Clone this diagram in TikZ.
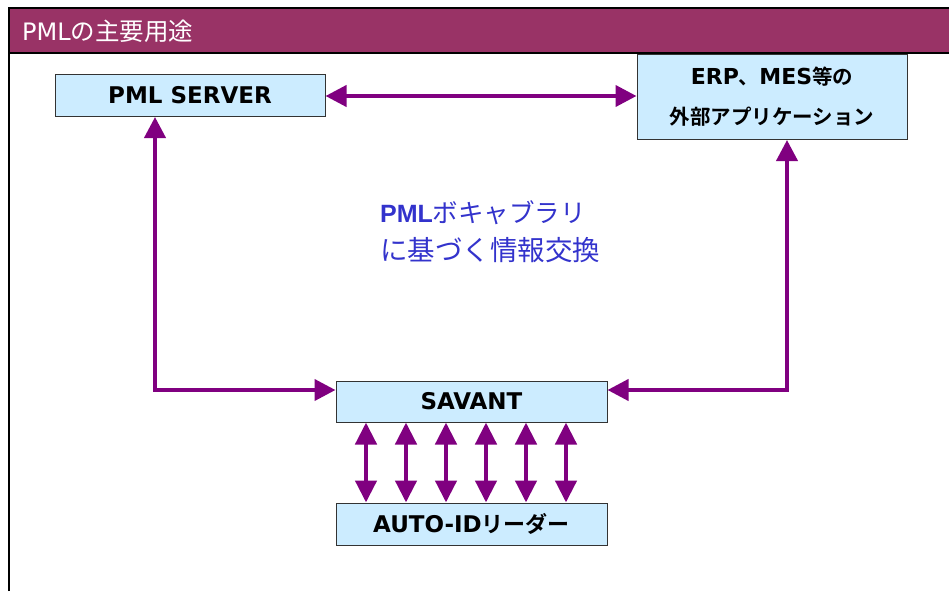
\documentclass[tikz,border=0pt]{standalone}
\usepackage{fontspec}
\setmainfont{DejaVu Sans}
\newfontfamily\jp{Noto Sans CJK JP}[BoldFont={Noto Sans CJK JP Bold}]
\newfontfamily\lib{Liberation Sans}
\usetikzlibrary{arrows.meta}
\definecolor{hdr}{HTML}{993366}
\definecolor{boxfill}{HTML}{CCECFF}
\definecolor{arrcol}{HTML}{800080}
\definecolor{txtblue}{HTML}{3333CC}
\newcommand{\jpb}[1]{{\jp\fontsize{22}{26}\selectfont #1}}
\tikzset{
  x=1pt, y=-1pt,
  boxnode/.style={draw=black!80, line width=1pt, fill=boxfill, inner sep=0pt,
    font=\bfseries\fontsize{23}{27}\selectfont, text=black},
  arr/.style={draw=arrcol, line width=4pt,
    {Triangle[length=21pt,width=21pt]}-{Triangle[length=21pt,width=21pt]}},
  arrsmall/.style={draw=arrcol, line width=4.5pt,
    {Triangle[length=22pt,width=21pt]}-{Triangle[length=22pt,width=21pt]}}
}
\begin{document}
\begin{tikzpicture}
\useasboundingbox (0,0) rectangle (949,591);
% header
\fill[hdr] (9,8) rectangle (949,53);
\draw[line width=2pt] (9,591) -- (9,8) -- (949,8);
\draw[line width=2pt] (9,53) -- (949,53);
\node[anchor=west, text=white, inner sep=0pt, font=\fontsize{24}{27}\selectfont] (title) at (22,31) {PML{\jp\fontsize{24.5}{27}\selectfont の主要用途}};
% boxes
\node[boxnode, minimum width=270pt, minimum height=42pt] (pml) at (190,95.5) {PML SERVER};
\node[boxnode, minimum width=270pt, minimum height=85pt, align=center,
  font=\bfseries\fontsize{22}{40}\selectfont] (erp) at (772,97) {ERP{\jp\fontsize{20.5}{40}\selectfont 、}MES{\jp\fontsize{20.5}{40}\selectfont 等の}\\{\jp\fontsize{20.5}{40}\selectfont 外部アプリケーション}};
\node[boxnode, minimum width=271pt, minimum height=41pt] (sav) at (471.5,401.5) {SAVANT};
\node[boxnode, minimum width=271pt, minimum height=42pt] (auto) at (471.5,524) {AUTO-ID\jpb{リーダー}};
% center label
\node[anchor=west, align=left, inner sep=0pt, text=txtblue,
  font=\fontsize{26}{38}\selectfont] (lbl) at (380,232)
  {{\lib\bfseries\fontsize{25}{38}\selectfont PML}{\jp\fontsize{25.5}{38}\selectfont ボキャブラリ}\\{\jp\fontsize{27.5}{38}\selectfont に基づく情報交換}};
% connectors
\coordinate (lc) at (155,390);
\coordinate (rc) at (787,390);
\draw[arr] (pml.east |- 0,96) -- (erp.west |- 0,96);
\draw[arr] (pml.south -| lc) |- (sav.west |- lc);
\draw[arr] (erp.south -| rc) |- (sav.east |- rc);
\foreach \x in {366,406,446,486,526,566}{
  \draw[arrsmall] (sav.south -| \x,0) -- (auto.north -| \x,0);
}
\end{tikzpicture}
\end{document}
